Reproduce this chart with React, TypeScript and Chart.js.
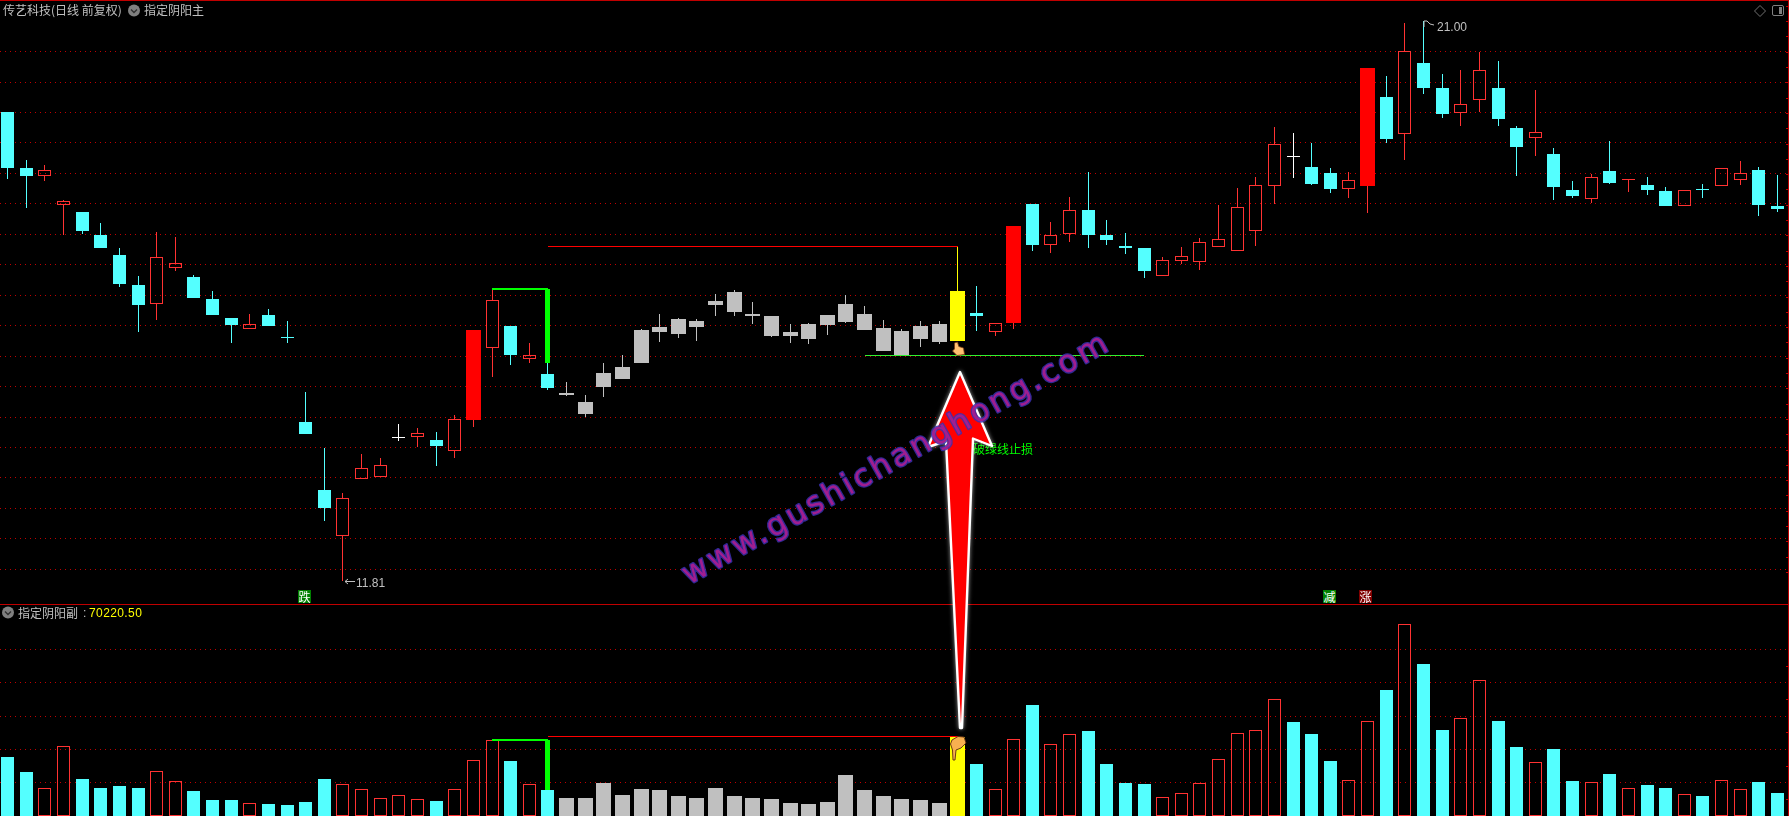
import React, { useEffect, useRef } from "react";
import { Chart, registerables } from "chart.js";

Chart.register(...registerables);

const open = [19.51,18.59,18.45,17.99,17.87,17.49,17.16,16.67,16.36,16.94,16.80,16.44,16.13,15.94,16.18,15.82,14.42,13.30,12.55,13.49,13.51,14.18,14.18,14.13,13.95,14.45,15.64,16.00,15.46,15.21,14.90,14.75,15.22,15.32,15.93,15.98,16.11,16.08,16.41,16.56,16.19,16.16,15.90,16.03,16.18,16.36,16.19,15.96,15.92,16.00,16.03,16.57,16.21,15.90,16.05,18.00,17.32,17.50,17.90,17.49,17.31,17.28,16.81,17.07,17.04,17.30,17.23,17.55,18.30,18.78,18.61,18.51,18.25,18.30,19.76,19.15,20.32,19.91,19.50,19.71,19.91,19.25,19.09,18.82,18.23,18.08,18.54,18.39,18.31,18.21,17.96,18.25,18.30,18.40,18.56,17.97];
const high = [19.51,18.72,18.64,18.07,17.87,17.69,17.28,16.82,17.54,17.46,16.83,16.57,16.13,16.19,16.28,16.08,14.91,13.99,13.26,13.90,13.83,14.39,14.32,14.26,14.54,15.93,16.60,16.00,15.72,15.39,15.08,14.86,15.39,15.52,15.95,16.19,16.13,16.11,16.52,16.59,16.39,16.16,16.03,16.05,16.18,16.51,16.33,16.10,15.95,16.08,16.08,17.31,16.65,16.04,17.64,18.00,17.70,18.12,18.53,17.74,17.52,17.28,17.13,17.29,17.44,17.98,18.26,18.44,19.27,19.17,19.00,18.59,18.53,20.23,20.10,20.97,21.00,20.13,20.20,20.50,20.35,19.28,19.87,18.92,18.38,18.49,19.04,18.41,18.44,18.28,18.23,18.33,18.59,18.71,18.61,18.48];
const low = [18.41,17.94,18.37,17.49,17.51,17.28,16.64,15.90,16.10,16.90,16.46,16.18,15.71,15.94,16.00,15.72,14.22,12.80,11.81,13.49,13.51,14.11,14.01,13.70,13.83,14.34,15.16,15.36,15.39,14.95,14.84,14.50,14.83,15.13,15.39,15.73,15.80,15.75,16.16,16.16,16.03,15.82,15.72,15.70,15.85,16.05,15.93,15.59,15.52,15.65,15.70,15.75,15.92,15.83,15.95,17.23,17.20,17.38,17.28,17.33,17.18,16.78,16.81,17.01,16.92,17.30,17.23,17.31,18.00,18.43,18.31,18.18,18.10,17.85,19.00,18.72,19.81,19.41,19.28,19.51,19.28,18.46,18.79,18.07,18.10,18.02,18.33,18.20,18.15,17.97,17.96,18.10,18.30,18.31,17.80,17.87];
const close = [18.59,18.46,18.55,18.05,17.55,17.28,16.69,16.34,17.13,17.03,16.46,16.18,16.01,16.03,16.00,15.80,14.22,13.01,13.17,13.66,13.71,14.18,14.24,14.03,14.47,15.93,16.42,15.52,15.52,14.98,14.86,14.55,14.99,15.13,15.39,15.90,15.87,15.98,16.34,16.23,16.16,15.83,15.83,15.78,16.01,16.06,15.93,15.59,15.52,15.78,15.73,15.75,16.16,16.04,17.64,17.33,17.49,17.90,17.49,17.41,17.28,16.90,17.08,17.14,17.37,17.42,17.95,18.31,18.98,18.78,18.33,18.25,18.39,20.23,19.07,20.51,19.91,19.48,19.64,20.20,19.40,18.94,19.18,18.28,18.13,18.44,18.35,18.41,18.23,17.97,18.23,18.23,18.59,18.50,17.98,17.92];
const volume = [178000,132500,83400,210000,111400,84300,90400,84300,134600,104500,75300,48200,48200,38200,36100,33100,42200,111400,95500,80400,53300,62300,50300,45200,80400,167800,228000,165700,95500,78300,54200,54200,99400,63300,81300,78300,60200,54200,84300,60200,54200,51200,39200,36100,42200,123500,78300,60200,51200,48200,39200,238000,156600,80400,231000,334300,216000,246000,256000,156600,99400,96400,56300,68400,98500,170800,249000,258000,351500,283000,247000,165700,107500,285000,379500,577400,457800,259000,294000,408700,286000,207800,161700,201800,105400,101500,126500,83400,93400,84300,65400,60200,107500,80400,102400,70220.5];

const priceGrid = [12,12.5,13,13.5,14,14.5,15,15.5,16,16.5,17,17.5,18,18.5,19,19.5,20,20.5];
const volumeGrid = [100000,200000,300000,400000,500000];
const weakDays = [30,31,32,33,34,35,36,37,38,39,40,41,42,43,44,45,46,47,48,49,50];
const signalDay = 51;
const solidDays = [25,54,73];
const greenStepDays = [26,29];
const greenStepPrice = 16.61;
const greenStepBase = 15.39;
const greenStepVolume = 229000;
const greenStepVolumeBase = 78300;
const resistanceDays = [29,51];
const resistancePrice = 17.30;
const resistanceVolume = 240000;
const stopDays = [46,61];
const stopPrice = 15.51;

const W = 1789, TOP_H = 604, BOT_H = 212;
const X_MIN = -0.41, X_MAX = 95.62;
const CYAN = "#54FFFF", RED = "#FF3232", SOLID = "#FF0000", GRAY = "#C0C0C0", YELLOW = "#FFFF00", GREEN = "#00FF00";

const isWeak = (i: number) => weakDays.includes(i);
const isSolid = (i: number) => solidDays.includes(i);
const wide = (i: number) => isWeak(i) || i === signalDay || isSolid(i);

function tone(i: number) {
  if (i === signalDay) return YELLOW;
  if (isWeak(i)) return GRAY;
  if (close[i] > open[i]) return RED;
  if (close[i] < open[i]) return CYAN;
  return "#FFFFFF";
}
function volumeTone(i: number) {
  if (i === signalDay) return YELLOW;
  if (isWeak(i)) return GRAY;
  if (close[i] === open[i]) return close[i] >= close[i - 1] ? RED : CYAN;
  return close[i] > open[i] ? RED : CYAN;
}

const snap = {
  id: "snap",
  afterDatasetsUpdate(chart: any) {
    chart.data.datasets.forEach((ds: any, k: number) => {
      const meta = chart.getDatasetMeta(k);
      meta.data.forEach((el: any) => {
        if (ds.type === "line") {
          const w = ds.borderWidth || 1;
          el.y = w % 2 ? Math.floor(el.y) + 0.5 : Math.round(el.y);
          el.x = Math.round(el.x);
        } else {
          el.x = Math.floor(el.x) + 0.5;
          const t = Math.round(el.y);
          let b = Math.round(el.base);
          if (Math.abs(b - t) < 1) b = t + 1;
          el.y = t;
          el.base = b;
        }
      });
    });
  },
};

const idx = open.map((_, i) => i);

function barSet(days: number[], thickness: number, value: (i: number) => [number, number], color: (i: number) => string, hollow: (i: number) => boolean, order: number) {
  return {
    type: "bar",
    grouped: false,
    barThickness: thickness,
    order,
    data: days.map((i) => ({ x: i, y: value(i) })),
    backgroundColor: days.map((i) => (hollow(i) ? "rgba(0,0,0,0)" : color(i))),
    borderColor: days.map((i) => color(i)),
    borderWidth: days.map((i) => (hollow(i) ? 1 : 0)),
    borderSkipped: false,
    inflateAmount: 0,
  };
}
function lineSet(days: number[], value: number, color: string, width: number) {
  return {
    type: "line",
    order: 0,
    data: days.map((d) => ({ x: d, y: value })),
    borderColor: color,
    borderWidth: width,
    pointRadius: 0,
    tension: 0,
    fill: false,
  };
}

function options(min: number, max: number, grid: number[]) {
  return {
    responsive: false,
    animation: false as const,
    maintainAspectRatio: false,
    events: [] as string[],
    layout: { padding: 0 },
    plugins: { legend: { display: false }, tooltip: { enabled: false }, title: { display: false } },
    scales: {
      x: { type: "linear", min: X_MIN, max: X_MAX, offset: false, display: false, grid: { display: false } },
      y: {
        type: "linear",
        min,
        max,
        beginAtZero: false,
        afterBuildTicks: (s: any) => { s.ticks = grid.map((value) => ({ value })); },
        afterFit: (s: any) => { s.width = 0; },
        ticks: { display: false },
        border: { display: false, dash: [1, 4] },
        grid: { color: "#C00000", lineWidth: 1, drawTicks: false },
      },
    },
  };
}

const bodyFixes = (i: number): [number, number] => [open[i], close[i]];

function priceConfig(): any {
  const up = idx.filter((i) => high[i] > Math.max(open[i], close[i]));
  const down = idx.filter((i) => low[i] < Math.min(open[i], close[i]));
  const hollow = (i: number) => close[i] > open[i] && !isSolid(i) && !isWeak(i) && i !== signalDay;
  const flat = () => false;
  return {
    type: "bar",
    data: {
      datasets: [
        lineSet(greenStepDays, greenStepPrice, GREEN, 2),
        lineSet(resistanceDays, resistancePrice, SOLID, 1),
        lineSet(stopDays, stopPrice, "#30F030", 1),
        barSet([greenStepDays[1]], 5, () => [greenStepBase, greenStepPrice], () => GREEN, flat, 1),
        barSet(idx.filter((i) => !wide(i)), 13, bodyFixes, tone, hollow, 2),
        barSet(idx.filter(wide), 15, bodyFixes, (i) => (isSolid(i) ? SOLID : tone(i)), flat, 2),
        barSet(up, 1, (i) => [Math.max(open[i], close[i]), high[i]], tone, flat, 3),
        barSet(down, 1, (i) => [Math.min(open[i], close[i]), low[i]], tone, flat, 3),
      ],
    },
    options: options(11.43, 21.348, priceGrid),
    plugins: [snap],
  };
}

function volumeConfig(): any {
  const hollow = (i: number) => volumeTone(i) === RED;
  const w = (i: number) => isWeak(i) || i === signalDay;
  return {
    type: "bar",
    data: {
      datasets: [
        lineSet(greenStepDays, greenStepVolume, GREEN, 2),
        lineSet(resistanceDays, resistanceVolume, SOLID, 1),
        barSet([greenStepDays[1]], 5, () => [greenStepVolumeBase, greenStepVolume], () => GREEN, () => false, 1),
        barSet(idx.filter((i) => !w(i)), 13, (i) => [0, volume[i]], volumeTone, hollow, 2),
        barSet(idx.filter(w), 15, (i) => [0, volume[i]], volumeTone, () => false, 2),
      ],
    },
    options: options(0, 637000, volumeGrid),
    plugins: [snap],
  };
}

const CJK = '"Noto Sans CJK SC", sans-serif';
function Label(p: { x: number; y: number; color?: string; font?: string; sp?: number; children: React.ReactNode }) {
  return (
    <span
      style={{
        position: "absolute",
        left: p.x,
        top: p.y - 8,
        height: 16,
        lineHeight: "16px",
        fontSize: 12,
        fontFamily: p.font || CJK,
        color: p.color || GRAY,
        whiteSpace: "nowrap",
        letterSpacing: p.sp,
      }}
    >
      {p.children}
    </span>
  );
}
function Marker(p: { x: number; bg: string; t: string }) {
  return (
    <span
      style={{
        position: "absolute", left: p.x, top: 590, width: 13, height: 13, lineHeight: "13px",
        fontSize: 12, fontFamily: CJK, color: "#fff", background: p.bg, textAlign: "center", overflow: "hidden",
      }}
    >
      {p.t}
    </span>
  );
}

const LATIN = '"Liberation Sans", sans-serif';
const rightTicks = Array.from({ length: 38 }, (_, k) => 5.8 + k * 15.3).concat(Array.from({ length: 6 }, (_, k) => 666 + k * 33.2));

export default function App() {
  const a = useRef<HTMLCanvasElement>(null);
  const b = useRef<HTMLCanvasElement>(null);
  useEffect(() => {
    document.body.style.margin = "0";
    document.body.style.background = "#000";
    const c1 = new Chart(a.current as any, priceConfig());
    const c2 = new Chart(b.current as any, volumeConfig());
    return () => { c1.destroy(); c2.destroy(); };
  }, []);
  return (
    <div style={{ position: "relative", width: W, height: 816, background: "#000", overflow: "hidden" }}>
      <canvas ref={a} width={W} height={TOP_H} style={{ position: "absolute", left: 0, top: 0, display: "block", width: W, height: TOP_H }} />
      <canvas ref={b} width={W} height={BOT_H} style={{ position: "absolute", left: 0, top: 604, display: "block", width: W, height: BOT_H }} />

      <Label x={3} y={10}>传艺科技(日线 前复权)</Label>
      <Label x={144} y={10}>指定阴阳主</Label>
      <Label x={18} y={612.5}>指定阴阳副</Label>
      <Label x={83} y={612.5} font={LATIN}>:</Label>
      <Label x={89} y={612.5} color={YELLOW} font={LATIN} sp={0.4}>70220.50</Label>
      <Label x={356} y={583} font={LATIN}>11.81</Label>
      <Label x={1437} y={26.5} font={LATIN}>21.00</Label>
      <Label x={973} y={449} color={GREEN}>破绿线止损</Label>
      <Marker x={298} bg="#008000" t="跌" />
      <Marker x={1323} bg="#008000" t="减" />
      <Marker x={1359} bg="#800000" t="涨" />

      <svg width={W} height={816} style={{ position: "absolute", left: 0, top: 0 }}>
        <rect x={0} y={0} width={W} height={1} fill="#C00000" />
        <rect x={0} y={604} width={W} height={1} fill="#C00000" />
        <rect x={1788} y={0} width={1} height={816} fill="#C00000" />
        {rightTicks.map((y, k) => (
          <rect key={k} x={1786} y={Math.round(y)} width={2} height={1} fill="#C00000" />
        ))}

        <circle cx={134} cy={10.5} r={6} fill="#808080" />
        <path d="M131 9.5 L134 12.5 L137 9.5" stroke="#303030" strokeWidth={1.4} fill="none" />
        <circle cx={8} cy={612.5} r={6} fill="#808080" />
        <path d="M5 611.5 L8 614.5 L11 611.5" stroke="#303030" strokeWidth={1.4} fill="none" />

        <path d="M1760 5.5 L1765.5 11 L1760 16.5 L1754.5 11 Z" stroke="#707070" fill="none" />
        <rect x={1772.5} y={5.5} width={11} height={10} rx={1.5} stroke="#808080" fill="none" />
        <rect x={1779} y={7} width={3} height={7} fill="#808080" />

        <path d="M355 581.5 L345 581.5 M348 579 L345 581.5 L348 584" stroke={GRAY} fill="none" />
        <path d="M1424 27 L1424 21 L1427 21 L1430 24 L1434 25" stroke={GRAY} fill="none" />

        <path d="M960 372 L992 446 L973 438.5 L962 728 L960 728 L946 441 L928 447 Z" fill="#FF0000" stroke="#FFFFFF" strokeWidth={2.4} strokeLinejoin="round" style={{ filter: "drop-shadow(0 0 2px rgba(255,255,255,.6))" }} />

        <path d="M954.5 349 L954.5 343 L957.5 342 L958.8 346.5 L963.5 348 L964.5 354.5 L957 355.5 L952.5 351 Z" fill="#FFC070" stroke="#7A3A10" strokeWidth={0.8} />
        <path d="M952 740 L958 736.5 L964 737 L966 743 L961 748 L956 750 L955 760 L953 760 L952.5 750 L950.5 744 Z" fill="#F8B050" stroke="#5A2A10" strokeWidth={0.9} />

        <text
          transform="translate(689 585) rotate(-29.2)"
          fontFamily='"DejaVu Sans", sans-serif'
          fontSize={31}
          textLength={482}
          lengthAdjust="spacing"
          fill="#A01E90"
          stroke="#3A30B0"
          strokeWidth={2.6}
          strokeOpacity={0.85}
          strokeLinejoin="round"
          style={{ paintOrder: "stroke" }}
        >
          www.gushichanghong.com
        </text>
      </svg>
    </div>
  );
}
